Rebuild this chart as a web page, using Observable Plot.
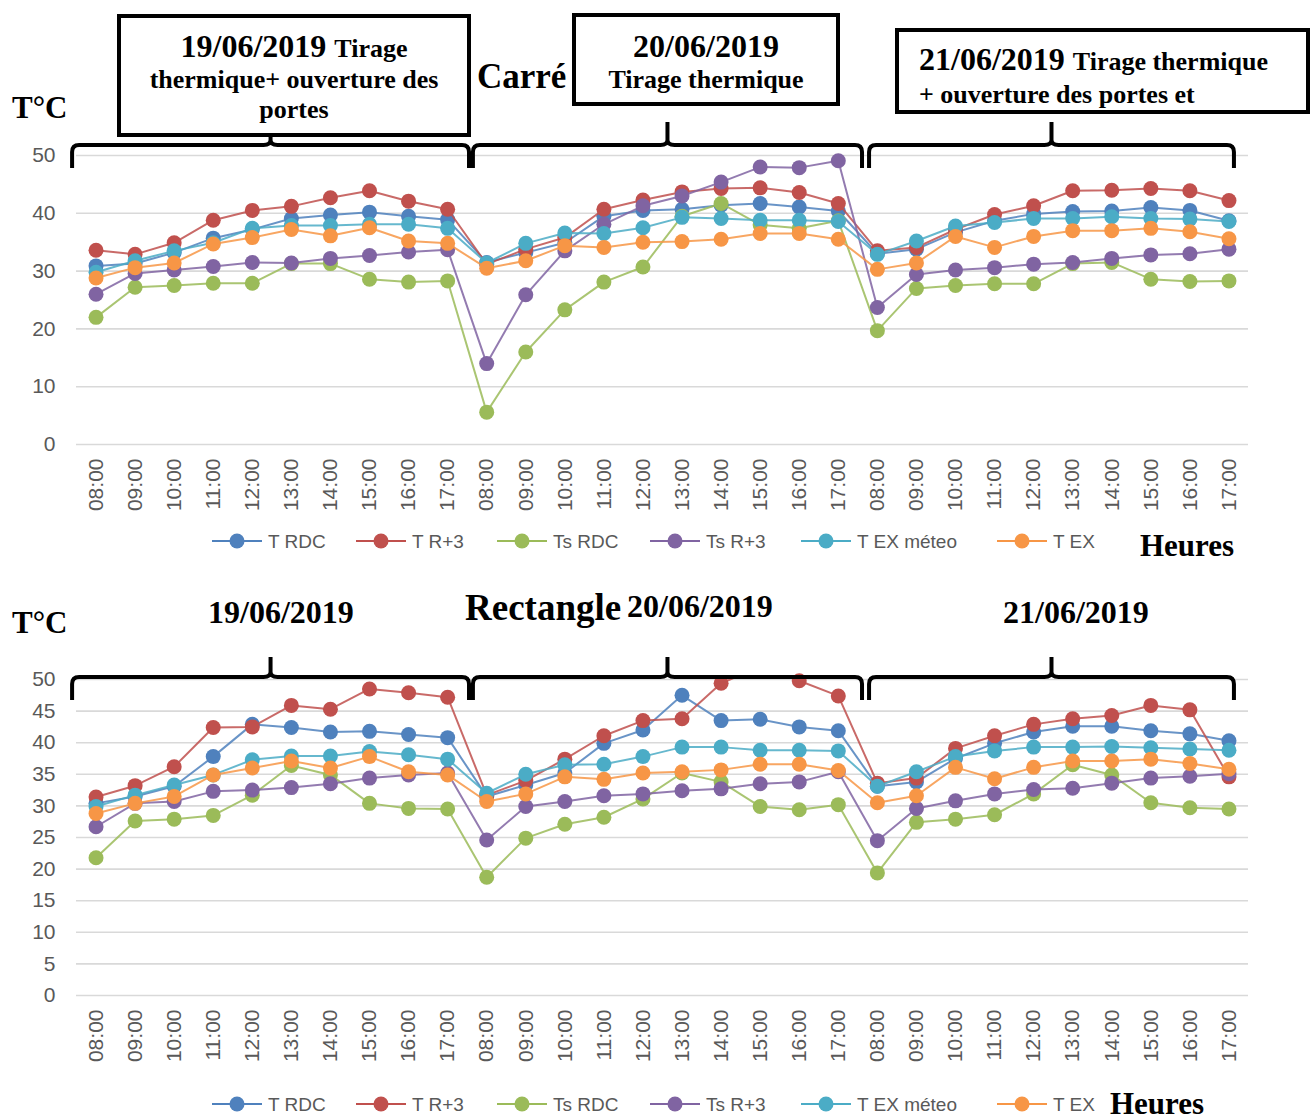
<!DOCTYPE html>
<html><head><meta charset="utf-8">
<script src="https://cdn.jsdelivr.net/npm/d3@7"></script>
<script src="https://cdn.jsdelivr.net/npm/@observablehq/plot@0.6"></script>
<style>
body{margin:0;background:#fff;}
#page{position:relative;width:1315px;height:1120px;overflow:hidden;background:#fff;}
.chart{position:absolute;left:0;}
.t{position:absolute;white-space:nowrap;font-family:"Liberation Serif","Times New Roman",serif;font-weight:bold;color:#000;line-height:1;z-index:3;}
.t span{line-height:1;}
.box{position:absolute;border:4px solid #000;background:#fff;box-sizing:border-box;overflow:hidden;z-index:2;}
.leg{position:absolute;font-family:"Liberation Sans",Arial,sans-serif;font-size:19px;color:#595959;line-height:1;white-space:nowrap;z-index:3;display:flex;align-items:center;}
</style></head>
<body><div id="page"></div>
<script>
// ---------- data ----------
const hours = ["08:00","09:00","10:00","11:00","12:00","13:00","14:00","15:00","16:00","17:00"];
const days = ["19/06/2019","20/06/2019","21/06/2019"];
const seriesNames = ["T RDC","T R+3","Ts RDC","Ts R+3","T EX méteo","T EX"];
const seriesColors = ["#4F81BD","#C0504D","#9BBB59","#8064A2","#4BACC6","#F79646"];

// Carré (top chart), 3 days x 10 hours
const carre_T_RDC   = [30.9,31.3,33.2,35.7,37.2,39.1,39.7,40.2,39.5,38.9, 31.5,33.2,34.9,39.5,40.5,40.7,41.4,41.7,41.1,40.4, 33.0,33.8,36.7,38.7,39.9,40.3,40.4,41.0,40.5,38.7];
const carre_T_R3    = [33.6,32.9,34.9,38.8,40.5,41.2,42.7,43.9,42.1,40.7, 31.2,33.8,35.8,40.7,42.3,43.7,44.3,44.4,43.6,41.7, 33.5,34.1,37.2,39.8,41.3,43.9,44.0,44.3,43.9,42.2];
const carre_Ts_RDC  = [22.0,27.2,27.5,27.9,27.9,31.3,31.3,28.6,28.1,28.3,  5.6,16.0,23.3,28.1,30.7,39.5,41.7,38.0,37.4,38.7, 19.7,27.0,27.5,27.8,27.8,31.3,31.5,28.6,28.2,28.3];
const carre_Ts_R3   = [26.0,29.6,30.2,30.8,31.5,31.4,32.2,32.7,33.3,33.7, 14.0,25.9,33.5,38.1,41.3,43.0,45.4,48.0,47.9,49.1, 23.7,29.4,30.2,30.6,31.2,31.5,32.2,32.8,33.0,33.8];
const carre_T_EXmet = [29.8,31.8,33.5,34.9,37.4,37.9,37.9,38.1,38.1,37.4, 31.4,34.8,36.6,36.5,37.5,39.3,39.1,38.8,38.8,38.6, 32.9,35.2,37.8,38.4,39.1,39.1,39.4,39.1,39.0,38.6];
const carre_T_EX    = [28.8,30.6,31.4,34.7,35.8,37.2,36.1,37.5,35.2,34.8, 30.5,31.8,34.4,34.1,35.0,35.1,35.5,36.5,36.5,35.5, 30.3,31.4,36.0,34.1,36.0,37.0,37.0,37.4,36.8,35.6];

// Rectangle (bottom chart)
const rect_T_RDC    = [30.4,31.5,33.1,37.8,42.9,42.4,41.7,41.8,41.3,40.8, 31.5,33.3,35.2,39.9,42.0,47.5,43.5,43.7,42.5,41.9, 33.1,33.8,37.5,39.9,41.7,42.6,42.6,41.9,41.4,40.3];
const rect_T_R3     = [31.4,33.2,36.2,42.4,42.5,45.9,45.3,48.5,47.9,47.2, 31.7,34.0,37.4,41.1,43.5,43.8,49.4,52.0,49.8,47.4, 33.6,34.4,39.1,41.1,42.9,43.8,44.3,45.9,45.2,34.6];
const rect_Ts_RDC   = [21.8,27.6,27.9,28.5,31.7,36.4,34.9,30.4,29.6,29.5, 18.7,24.9,27.1,28.2,31.1,35.2,33.8,29.9,29.4,30.2, 19.4,27.4,27.9,28.6,31.9,36.5,34.9,30.5,29.7,29.5];
const rect_Ts_R3    = [26.7,30.4,30.7,32.3,32.5,32.9,33.5,34.4,34.9,35.2, 24.6,29.9,30.7,31.6,31.9,32.4,32.7,33.5,33.8,35.4, 24.5,29.6,30.8,31.9,32.6,32.8,33.6,34.4,34.7,35.1];
const rect_T_EXmet  = [29.9,31.7,33.3,34.9,37.3,37.9,37.9,38.6,38.1,37.4, 32.0,35.0,36.5,36.6,37.8,39.3,39.3,38.8,38.8,38.7, 33.1,35.4,37.8,38.7,39.3,39.3,39.4,39.2,39.0,38.8];
const rect_T_EX     = [28.8,30.4,31.5,34.9,36.0,37.1,36.0,37.8,35.4,34.9, 30.7,31.9,34.6,34.2,35.2,35.4,35.7,36.6,36.6,35.6, 30.5,31.6,36.1,34.3,36.1,37.1,37.1,37.4,36.7,35.8];

// ---------- layout (annotations) ----------
const braceSpans = [[-0.6, 9.56], [9.66, 19.62], [19.8, 29.14]];
const legendX = [212, 356, 497, 650, 801, 997];

const page = document.getElementById("page");

function makeChart(values, yMax, yStep, top, height, marginTop, marginBottom, brace) {
  const data = [];
  values.forEach((arr, s) => arr.forEach((v, i) => data.push({s, i, v})));
  const yt = d3.range(0, yMax + 1, yStep);
  const marks = [
    Plot.gridY(yt, {stroke: "#d9d9d9", strokeOpacity: 1, strokeWidth: 1.6}),
    Plot.axisY(yt, {tickSize: 0, tickPadding: 21, fontSize: 21, label: null}),
    Plot.axisX(d3.range(30), {tickSize: 0, tickPadding: 14, tickRotate: -90, fontSize: 21, label: null,
      tickFormat: i => hours[i % hours.length]})
  ];
  seriesNames.forEach((name, s) => {
    const rows = data.filter(d => d.s === s);
    marks.push(Plot.line(rows, {x: "i", y: "v", stroke: seriesColors[s], strokeWidth: 2, strokeOpacity: 0.85, clip: true}));
    marks.push(Plot.dot(rows.filter(d => d.v <= yMax), {x: "i", y: "v", fill: seriesColors[s], r: 7.5}));
  });
  const chart = Plot.plot({
    width: 1315, height, marginLeft: 76, marginRight: 67, marginTop, marginBottom,
    x: {type: "linear", domain: [-0.5, 29.5], label: null},
    y: {domain: [0, yMax], label: null},
    style: {fontFamily: "'Liberation Sans', Arial, sans-serif", color: "#595959", background: "transparent", overflow: "visible"},
    marks
  });
  chart.classList.add("chart");
  chart.style.top = top + "px";
  page.appendChild(chart);

  // curly braces above each day
  const sx = chart.scale("x"), sy = chart.scale("y");
  const y50 = sy.apply(yMax);
  const yh = y50 + brace.dh, yb = y50 + brace.db, yt2 = yh - brace.tip;
  const svg = d3.select(chart);
  braceSpans.forEach(([a, b]) => {
    const x0 = sx.apply(a), x1 = sx.apply(b), xm = (x0 + x1) / 2, r = 7;
    const p = `M${x0},${yb} L${x0},${yh + r} Q${x0},${yh} ${x0 + r},${yh} L${xm - r},${yh} Q${xm},${yh} ${xm},${yh - 5} L${xm},${yt2} M${xm},${yh - 5} Q${xm},${yh} ${xm + r},${yh} L${x1 - r},${yh} Q${x1},${yh} ${x1},${yh + r} L${x1},${yb}`;
    svg.append("path").attr("d", p).attr("fill", "none").attr("stroke", "#000").attr("stroke-width", 4);
  });
  return chart;
}

makeChart([carre_T_RDC, carre_T_R3, carre_Ts_RDC, carre_Ts_R3, carre_T_EXmet, carre_T_EX], 50, 10, 0, 530, 155, 86, {dh: -10, db: 13, tip: 23});
makeChart([rect_T_RDC, rect_T_R3, rect_Ts_RDC, rect_Ts_R3, rect_T_EXmet, rect_T_EX], 50, 5, 560, 520, 119, 85, {dh: -2, db: 21, tip: 20});

// ---------- text helpers ----------
function txt(html, x, baseline, fs, opts = {}) {
  const d = document.createElement("div");
  d.className = "t";
  d.innerHTML = html;
  d.style.fontSize = fs + "px";
  d.style.height = fs + "px";
  d.style.top = (baseline - 0.84 * fs) + "px";
  if (opts.center !== undefined) { d.style.left = (opts.center - 300) + "px"; d.style.width = "600px"; d.style.textAlign = "center"; }
  else d.style.left = x + "px";
  (opts.parent || page).appendChild(d);
  return d;
}
function box(l, t, r, b) {
  const d = document.createElement("div");
  d.className = "box";
  d.style.left = l + "px"; d.style.top = t + "px";
  d.style.width = (r - l) + "px"; d.style.height = (b - t) + "px";
  page.appendChild(d);
  return d;
}

// top headings
txt("T°C", 12, 118, 31);
box(117, 14, 471, 137);
txt(`${days[0]} <span style="font-size:26px">Tirage</span>`, 0, 57, 32, {center: 294});
txt("thermique+ ouverture des", 0, 89, 26, {center: 294});
txt("portes", 0, 119, 26, {center: 294});
txt("Carré", 477, 88, 35);
box(572, 13, 840, 106);
txt(days[1], 0, 57, 32, {center: 706});
txt("Tirage thermique", 0, 89, 26, {center: 706});
const b3 = box(895, 28, 1310, 114);
txt(`${days[2]} <span style="font-size:26px">Tirage thermique</span>`, 20, 70 - 32, 32, {parent: b3});
txt("+ ouverture des portes et", 20, 104 - 32, 26, {parent: b3});
txt("Heures", 1140, 556, 31);

// bottom headings
txt("T°C", 12, 633, 31);
txt(days[0], 208, 623, 32);
txt("Rectangle", 465, 620, 37);
txt(days[1], 627, 617, 32);
txt(days[2], 1003, 623, 32);
txt("Heures", 1110, 1114, 31);

// legends
function legend(yc) {
  seriesNames.forEach((name, s) => {
    const d = document.createElement("div");
    d.className = "leg";
    d.style.left = legendX[s] + "px";
    d.style.top = (yc - 12) + "px";
    d.style.height = "24px";
    d.innerHTML = `<svg width="56" height="24" style="display:block"><line x1="0" x2="50" y1="12" y2="12" stroke="${seriesColors[s]}" stroke-width="2"/><circle cx="25" cy="12" r="7.5" fill="${seriesColors[s]}"/></svg><span>${name}</span>`;
    page.appendChild(d);
  });
}
legend(541);
legend(1104);
</script>
</body></html>
